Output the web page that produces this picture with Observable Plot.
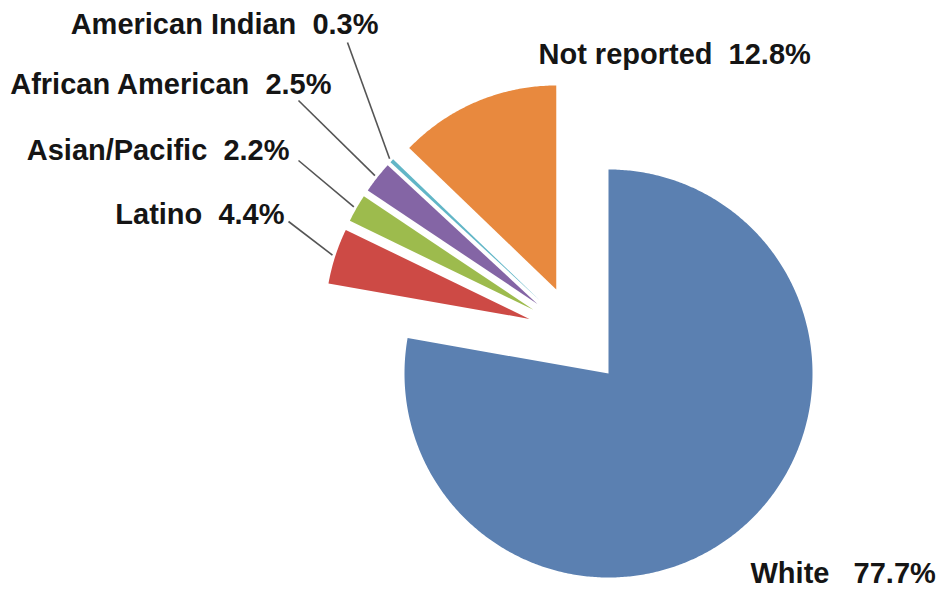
<!DOCTYPE html>
<html>
<head>
<meta charset="utf-8">
<script src="https://cdn.jsdelivr.net/npm/d3@7"></script>
<script src="https://cdn.jsdelivr.net/npm/@observablehq/plot@0.6"></script>
<style>
html, body { margin: 0; padding: 0; background: #ffffff; overflow: hidden; }
svg text { white-space: pre; }
</style>
</head>
<body>
<div id="chart"></div>
<script>
// ---- data ----
const categories = ["White", "Latino", "Asian/Pacific", "African American", "American Indian", "Not reported"];
const percents   = [77.7, 4.4, 2.2, 2.5, 0.3, 12.8];
const gaps       = ["   ", "  ", "  ", "  ", "  ", "  "];

// ---- styles ----
const colors = ["#5b80b1", "#cd4a45", "#9dbb4d", "#8465a5", "#62b6c7", "#e8893e"];

// ---- layout (pixel frame) ----
const W = 949, H = 589;
const center = [608, 373];
const radius = 204;
const groupExplode = 52;     // whole exploded group pulled away
const sliceExplode = 48;     // each exploded slice pulled along its own bisector
const labelX      = [750, 284, 289, 331, 378, 538];
const labelY      = [573, 214, 150, 84, 24, 54];
const labelAnchor = ["start", "end", "end", "end", "end", "start"];
const leaderX     = [null, 288, 298, 298, 347, null];
const leaderY     = [null, 221, 160, 100, 42, null];

const data = categories.map((c, i) => ({name: c, value: percents[i], i}));
const arcs = d3.pie().sort(null).value(d => d.value)(data);

const dir = a => [Math.sin(a), -Math.cos(a)];
const exploded = arcs.filter(a => a.data.name !== "White");
const gStart = d3.min(exploded, a => a.startAngle), gEnd = d3.max(exploded, a => a.endAngle);
const gMid = (gStart + gEnd) / 2;

const pts = [];
const leaders = [];
arcs.forEach(a => {
  const name = a.data.name;
  let ox = center[0], oy = center[1];
  if (name !== "White") {
    const gd = dir(gMid), sd = dir((a.startAngle + a.endAngle) / 2);
    ox += groupExplode * gd[0] + sliceExplode * sd[0];
    oy += groupExplode * gd[1] + sliceExplode * sd[1];
  }
  pts.push({name, x: ox, y: oy});
  const n = Math.max(2, Math.ceil((a.endAngle - a.startAngle) / (Math.PI / 360)));
  for (let k = 0; k <= n; k++) {
    const t = a.startAngle + (a.endAngle - a.startAngle) * k / n;
    const d = dir(t);
    pts.push({name, x: ox + radius * d[0], y: oy + radius * d[1]});
  }
  const i = a.data.i;
  if (leaderX[i] != null) {
    const m = dir((a.startAngle + a.endAngle) / 2);
    leaders.push({x1: leaderX[i], y1: leaderY[i], x2: ox + (radius + 3) * m[0], y2: oy + (radius + 3) * m[1]});
  }
});

const labels = data.map((d, i) => ({
  text: d.name + gaps[i] + d.value.toFixed(1) + "%",
  x: labelX[i], y: labelY[i], anchor: labelAnchor[i]
}));

const font = "'Liberation Sans', Arial, Helvetica, sans-serif";

const chart = Plot.plot({
  width: W, height: H,
  margin: 0,
  x: {domain: [0, W], range: [0, W], axis: null},
  y: {domain: [0, H], range: [0, H], axis: null},
  color: {domain: categories, range: colors},
  style: {background: "#ffffff", overflow: "visible"},
  marks: [
    Plot.line(pts, {x: "x", y: "y", z: "name", fill: "name", stroke: "none", curve: "linear-closed"}),
    Plot.link(leaders, {x1: "x1", y1: "y1", x2: "x2", y2: "y2", stroke: "#555555", strokeWidth: 1.6}),
    Plot.text(labels.filter(d => d.anchor === "start"), {x: "x", y: "y", text: "text", textAnchor: "start",
      fontSize: 29, fontWeight: "bold", fontFamily: font, fill: "#151515"}),
    Plot.text(labels.filter(d => d.anchor === "end"), {x: "x", y: "y", text: "text", textAnchor: "end",
      fontSize: 29, fontWeight: "bold", fontFamily: font, fill: "#151515"})
  ]
});
document.getElementById("chart").appendChild(chart);
</script>
</body>
</html>
